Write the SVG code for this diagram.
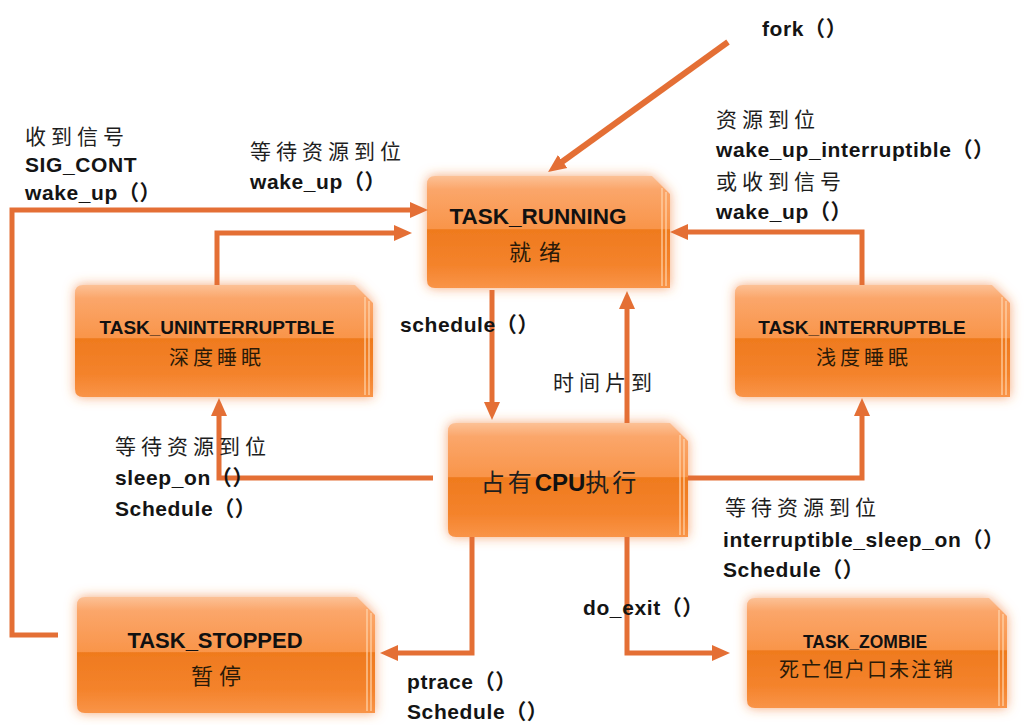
<svg xmlns="http://www.w3.org/2000/svg" width="1024" height="725" viewBox="0 0 1024 725">
<defs>
<style>
.lbl{font-family:"Liberation Sans","Noto Sans CJK SC",sans-serif;font-weight:bold;font-size:21px;letter-spacing:0.6px;fill:#141414}
.zh{font-family:"Noto Sans CJK SC",sans-serif;font-weight:normal;font-size:21px;letter-spacing:5px;fill:#1e1e1e}
.nt{font-family:"Liberation Sans","Noto Sans CJK SC",sans-serif;font-weight:bold;font-size:22px;fill:#111;text-anchor:middle}
.nts{font-family:"Liberation Sans","Noto Sans CJK SC",sans-serif;font-weight:bold;font-size:19px;fill:#111;text-anchor:middle}
.nzh{font-family:"Noto Sans CJK SC",sans-serif;font-size:20px;letter-spacing:4px;fill:#2a1a08;text-anchor:middle}
.box{fill:url(#boxg);filter:url(#glow)}
.bev{stroke:#ffd7b0;stroke-width:1.5;opacity:0.8;fill:none}
.edge{fill:none;stroke:#e46f35;stroke-width:5;stroke-linejoin:miter}
</style>
<linearGradient id="boxg" x1="0" y1="0" x2="0" y2="1">
<stop offset="0" stop-color="#fcc196"/>
<stop offset="0.12" stop-color="#fba66a"/>
<stop offset="0.47" stop-color="#f9954a"/>
<stop offset="0.48" stop-color="#ef7a1e"/>
<stop offset="0.8" stop-color="#f4832c"/>
<stop offset="1" stop-color="#f99448"/>
</linearGradient>
<filter id="glow" x="-10%" y="-15%" width="120%" height="130%">
<feGaussianBlur in="SourceAlpha" stdDeviation="6" result="b"/>
<feFlood flood-color="#f07a30" flood-opacity="0.65"/>
<feComposite in2="b" operator="in" result="g"/>
<feMerge><feMergeNode in="g"/><feMergeNode in="SourceGraphic"/></feMerge>
</filter>
<marker id="ah" markerUnits="userSpaceOnUse" markerWidth="20" markerHeight="20" viewBox="0 0 20 20" refX="4" refY="10" orient="auto">
<path d="M0,2 L18,10 L0,18 z" fill="#e46f35"/>
</marker>
</defs>
<rect width="1024" height="725" fill="#ffffff"/>

<g id="n-running">
<path class="box" d="M435,176 H652 L670,194 V288 H435 Q427,288 427,280 V184 Q427,176 435,176 Z"/>
<path class="bev" d="M662,188 V286 M666,192 V286"/>
<text class="nt" x="538" y="224" style="font-size:22.5px">TASK_RUNNING</text>
<text class="nzh" x="539" y="260" style="font-size:22px;letter-spacing:8px">就绪</text>
</g>
<g id="n-unint">
<path class="box" d="M83,285 H355 L373,303 V397 H83 Q75,397 75,389 V293 Q75,285 83,285 Z"/>
<path class="bev" d="M365,297 V395 M369,301 V395"/>
<text class="nts" x="217" y="334">TASK_UNINTERRUPTBLE</text>
<text class="nzh" x="217" y="365">深度睡眠</text>
</g>
<g id="n-int">
<path class="box" d="M743,285 H992 L1010,303 V397 H743 Q735,397 735,389 V293 Q735,285 743,285 Z"/>
<path class="bev" d="M1002,297 V395 M1006,301 V395"/>
<text class="nts" x="862" y="334">TASK_INTERRUPTBLE</text>
<text class="nzh" x="864" y="365">浅度睡眠</text>
</g>
<g id="n-cpu">
<path class="box" d="M456,423 H670 L688,441 V537 H456 Q448,537 448,529 V431 Q448,423 456,423 Z"/>
<path class="bev" d="M680,435 V535 M684,439 V535"/>
<text x="560" y="491" text-anchor="middle"><tspan class="zh" style="font-size:24px;letter-spacing:3px">占有</tspan><tspan style="font-family:'Liberation Sans',sans-serif;font-weight:bold;font-size:24px;fill:#111">CPU</tspan><tspan class="zh" style="font-size:24px;letter-spacing:3px">执行</tspan></text>
</g>
<g id="n-stopped">
<path class="box" d="M85,597 H357 L375,615 V713 H85 Q77,713 77,705 V605 Q77,597 85,597 Z"/>
<path class="bev" d="M367,609 V711 M371,613 V711"/>
<text class="nt" x="215" y="648">TASK_STOPPED</text>
<text class="nzh" x="219" y="684" style="font-size:22px;letter-spacing:6px">暂停</text>
</g>
<g id="n-zombie">
<path class="box" d="M755,598 H989 L1007,616 V708 H755 Q747,708 747,700 V606 Q747,598 755,598 Z"/>
<path class="bev" d="M999,610 V706 M1003,614 V706"/>
<text class="nts" x="865" y="648" style="font-size:17.5px">TASK_ZOMBIE</text>
<text class="nzh" x="867" y="677" style="letter-spacing:2px">死亡但户口未注销</text>
</g>

<g id="connectors">
<path class="edge" d="M728,42 L559.4,163.8" marker-end="url(#ah)" style="stroke-width:6"/>
<path class="edge" d="M58,635 H12 V210 H414" marker-end="url(#ah)"/>
<path class="edge" d="M217,285 V233 H398" marker-end="url(#ah)"/>
<path class="edge" d="M862,285 V232 H684" marker-end="url(#ah)"/>
<path class="edge" d="M492,290 V406" marker-end="url(#ah)"/>
<path class="edge" d="M627,423 V305" marker-end="url(#ah)"/>
<path class="edge" d="M433,478 H219 V412" marker-end="url(#ah)"/>
<path class="edge" d="M688,478 H862 V412" marker-end="url(#ah)"/>
<path class="edge" d="M472,537 V653 H394" marker-end="url(#ah)"/>
<path class="edge" d="M627,537 V653 H716" marker-end="url(#ah)"/>
</g>

<g id="labels">
<text class="lbl" x="762" y="36">fork（）</text>
<text class="zh" x="25" y="144">收到信号</text>
<text class="lbl" x="25" y="172">SIG_CONT</text>
<text class="lbl" x="25" y="200">wake_up（）</text>
<text class="zh" x="250" y="159">等待资源到位</text>
<text class="lbl" x="250" y="189">wake_up（）</text>
<text class="zh" x="716" y="127">资源到位</text>
<text class="lbl" x="716" y="157">wake_up_interruptible（）</text>
<text class="zh" x="716" y="189">或收到信号</text>
<text class="lbl" x="716" y="219">wake_up（）</text>
<text class="lbl" x="400" y="332">schedule（）</text>
<text class="zh" x="553" y="390">时间片到</text>
<text class="zh" x="115" y="454">等待资源到位</text>
<text class="lbl" x="115" y="485">sleep_on（）</text>
<text class="lbl" x="115" y="516">Schedule（）</text>
<text class="zh" x="725" y="515">等待资源到位</text>
<text class="lbl" x="723" y="547">interruptible_sleep_on（）</text>
<text class="lbl" x="723" y="577">Schedule（）</text>
<text class="lbl" x="583" y="615">do_exit（）</text>
<text class="lbl" x="407" y="689">ptrace（）</text>
<text class="lbl" x="407" y="719">Schedule（）</text>
</g>
</svg>
